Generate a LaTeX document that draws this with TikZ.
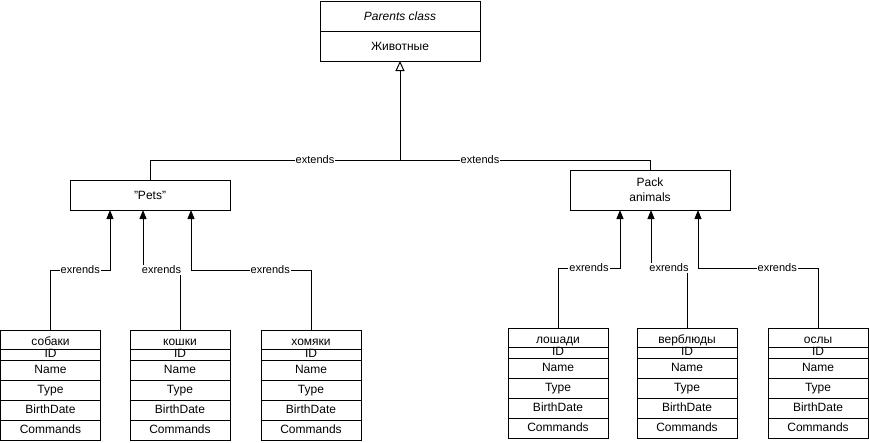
\documentclass[tikz,border=0pt]{standalone}
\usepackage{fontspec}
\setmainfont{Liberation Sans}
\usetikzlibrary{positioning,arrows.meta}

\tikzset{
  cls/.style={draw, line width=1pt, minimum width=160pt, inner sep=0pt, outer sep=0pt, align=center, font=\fontsize{12}{15}\selectfont},
  row/.style={draw, line width=1pt, minimum width=100pt, minimum height=20pt, inner sep=0pt, outer sep=0pt, text height=8pt, text depth=2pt, font=\fontsize{12}{14}\selectfont},
  lbl/.style={fill=white, inner sep=1pt, font=\fontsize{11}{13}\selectfont},
  link/.style={line width=1pt},
  inh/.style={line width=1pt, -{Triangle[width=7pt,length=9pt]}}
}

\begin{document}
\begin{tikzpicture}[x=1pt,y=-1pt]
  \useasboundingbox (0,0) rectangle (869,442);
  % parent class
  \node[cls, minimum height=30pt, font=\fontsize{12}{15}\selectfont\itshape] (parent) at (400,16) {Parents class};
  \node[cls, minimum height=30pt, below=0pt of parent] (animals) {Животные};
  \coordinate (hub) at (400,160);
  \draw[link, -{Triangle[open,width=9pt,length=10pt]}] (hub) -- (animals.south);
  % two groups
  \node[cls, minimum height=30pt] (pets) at (150,195) {\symbol{34}Pets\symbol{34}};
  \node[cls, minimum height=40pt] (pack) at (650,190) {Pack\\animals};
  \draw[link] (pets.north) |- node[lbl, pos=0.83] {extends} (hub);
  \draw[link] (pack.north) |- node[lbl, pos=0.84] {extends} (hub);
  % tables
  \foreach \nm/\txt/\x/\y in {dogs/собаки/50.5/330, cats/кошки/180/330, hamsters/хомяки/311/330,
      horses/лошади/558/328, camels/верблюды/687/328, donkeys/ослы/818/328} {
    \node[row, minimum height=19pt, text height=12pt, text depth=0pt, anchor=north] (\nm) at (\x,\y) {\txt};
    \node[row, minimum height=11pt, below=0pt of \nm] (\nm-id) {ID};
    \node[row, below=0pt of \nm-id] (\nm-name) {Name};
    \node[row, below=0pt of \nm-name] (\nm-type) {Type};
    \node[row, below=0pt of \nm-type] (\nm-birth) {BirthDate};
    \node[row, below=0pt of \nm-birth] (\nm-cmd) {Commands};
  }
  % pets
  \draw[inh] (dogs.north) -- ++(0,-60) -| node[lbl, pos=0.25] {exrends} ([xshift=-40pt]pets.south);
  \draw[inh] (cats.north) -- ++(0,-60) -| node[lbl, pos=0.25] {exrends} ([xshift=-7pt]pets.south);
  \draw[inh] (hamsters.north) -- ++(0,-60) -| node[lbl, pos=0.17] {exrends} ([xshift=41pt]pets.south);
  % pack animals
  \draw[inh] (horses.north) -- ++(0,-60) -| node[lbl, pos=0.25] {exrends} ([xshift=-30pt]pack.south);
  \draw[inh] (camels.north) -- ++(0,-60) -| node[lbl, pos=0.25] {exrends} ([xshift=1pt]pack.south);
  \draw[inh] (donkeys.north) -- ++(0,-60) -| node[lbl, pos=0.17] {exrends} ([xshift=48pt]pack.south);
\end{tikzpicture}
\end{document}
